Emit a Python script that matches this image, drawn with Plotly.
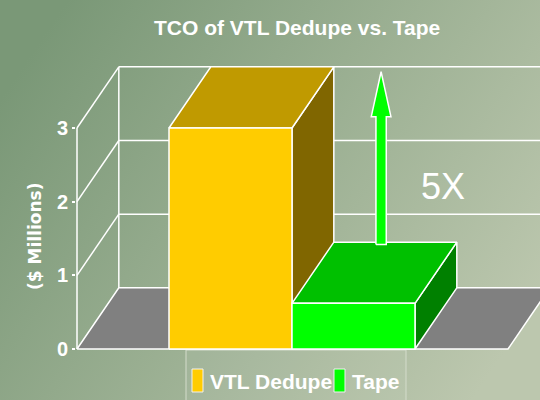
import base64
import plotly.graph_objects as go

# ---------------- data ----------------
CATEGORIES = ["VTL Dedupe", "Tape"]
VALUES = [3.0, 0.62]               # $ millions
FRONT_COLORS = ["#FFCC00", "#00FF00"]
TOP_COLORS = ["#C09A00", "#00C000"]
SIDE_COLORS = ["#806600", "#008000"]
TICK_VALS = [0, 1, 2, 3]
TICK_LABELS = ["0", "1", "2", "3"]
TITLE = "TCO of VTL Dedupe vs. Tape"
Y_TITLE = "($ Millions)"
RATIO_LABEL = "5X"

# ---------------- geometry ----------------
W, H = 540, 400
ML = 76
PX_PER_X, X0_PX = 123.0, 230.5     # category axis scale
PX_PER_Y, Y0_PX = 73.67, 349.0     # value axis scale
BAR_W = 1.0
DX, DY = 0.34, 0.83                # 3-D depth offset (axis units)
X_LEFT, X_RIGHT = -1.248, 2.256    # floor extents (axis units)
X_RANGE = [(ML - X0_PX) / PX_PER_X, (W - X0_PX) / PX_PER_X]
Y_RANGE = [-(H - Y0_PX) / PX_PER_Y, Y0_PX / PX_PER_Y]
YMAX = max(TICK_VALS)

FONT = "Liberation Sans, Arial, sans-serif"
WHITE = "white"
LW = 1.5

fig = go.Figure()


def poly(xs, ys, fill, line=WHITE, width=LW):
    fig.add_trace(go.Scatter(x=xs + [xs[0]], y=ys + [ys[0]], mode="lines",
                             fill="toself", fillcolor=fill,
                             line=dict(color=line, width=width),
                             hoverinfo="skip", showlegend=False))


def seg(xs, ys, color=WHITE, width=LW):
    fig.add_trace(go.Scatter(x=xs, y=ys, mode="lines",
                             line=dict(color=color, width=width),
                             hoverinfo="skip", showlegend=False))


# back wall gridlines and left-wall diagonals
for t in TICK_VALS[1:]:
    seg([X_LEFT + DX, X_RIGHT + DX + 1], [t + DY, t + DY])
    seg([X_LEFT, X_LEFT + DX], [t, t + DY])
seg([X_LEFT + DX, X_LEFT + DX], [DY, YMAX + DY])
seg([X_LEFT, X_LEFT], [0, YMAX])

# floor
poly([X_LEFT, X_RIGHT, X_RIGHT + DX, X_LEFT + DX], [0, 0, DY, DY], "#808080")

# bars
for i, v in enumerate(VALUES):
    x0, x1 = i - BAR_W / 2, i + BAR_W / 2
    poly([x1, x1 + DX, x1 + DX, x1], [0, DY, v + DY, v], SIDE_COLORS[i])
    poly([x0, x1, x1 + DX, x0 + DX], [v, v, v + DY, v + DY], TOP_COLORS[i])
    poly([x0, x1, x1, x0], [0, 0, v, v], FRONT_COLORS[i])

# growth arrow from Tape top to VTL height
ax = 1 + 0.66 * DX
y_base = VALUES[1] + DY * 0.96
y_tip = VALUES[0] + DY * 0.92
sw, hw, hl = 0.042, 0.08, 0.61
poly([ax - sw, ax + sw, ax + sw, ax + hw, ax, ax - hw, ax - sw],
     [y_base, y_base, y_tip - hl, y_tip - hl, y_tip, y_tip - hl, y_tip - hl],
     "#00FF00")

fig.add_annotation(x=1.73, y=2.2, xref="x", yref="y", text=RATIO_LABEL,
                   showarrow=False, xanchor="center", yanchor="middle",
                   font=dict(family=FONT, size=36, color=WHITE))

# ---------------- background ----------------
svg = ("<svg xmlns='http://www.w3.org/2000/svg' width='540' height='400'>"
       "<defs><linearGradient id='g' x1='0' y1='0.25' x2='1' y2='0.75'>"
       "<stop offset='0' stop-color='#7a9877'/>"
       "<stop offset='1' stop-color='#bcc7ae'/>"
       "</linearGradient></defs>"
       "<rect width='540' height='400' fill='url(#g)'/></svg>")
src = "data:image/svg+xml;base64," + base64.b64encode(svg.encode()).decode()
PW = W - ML


def px(p):
    return (p - ML) / PW


def py(p):
    return 1 - p / H


fig.add_layout_image(source=src, xref="paper", yref="paper", x=px(0), y=1,
                     sizex=W / PW, sizey=1, sizing="stretch", layer="below")

# ---------------- title & axis title ----------------
fig.add_annotation(x=px(297), y=py(27), xref="paper", yref="paper", text=TITLE,
                   showarrow=False, xanchor="center", yanchor="middle",
                   font=dict(family=FONT, size=21, color=WHITE, weight="bold"))
fig.add_annotation(x=px(35), y=py(237), xref="paper", yref="paper", text=Y_TITLE,
                   textangle=-90, showarrow=False, xanchor="center", yanchor="middle",
                   font=dict(family="DejaVu Sans, sans-serif", size=17, color=WHITE,
                             weight="bold"))

# ---------------- legend (manual) ----------------
fig.add_shape(type="rect", xref="paper", yref="paper", x0=px(186), x1=px(406),
              y0=py(404), y1=py(350), line=dict(color="#d4dccb", width=1),
              fillcolor="rgba(255,255,255,0.05)", layer="below")
leg_x = [192, 334]
for i, name in enumerate(CATEGORIES):
    fig.add_shape(type="rect", xref="paper", yref="paper", x0=px(leg_x[i]), x1=px(leg_x[i] + 11),
                  y0=py(392), y1=py(369), fillcolor=FRONT_COLORS[i],
                  line=dict(color="#f0f0f0", width=1))
    fig.add_annotation(x=px(leg_x[i] + 16), y=py(381), xref="paper", yref="paper",
                       text=name, showarrow=False, xanchor="left", yanchor="middle",
                       font=dict(family=FONT, size=21, color=WHITE, weight="bold"))

fig.update_layout(
    width=W, height=H, margin=dict(l=ML, r=0, t=0, b=0),
    paper_bgcolor="#8fa88a", plot_bgcolor="rgba(0,0,0,0)",
    showlegend=False,
    xaxis=dict(range=X_RANGE, visible=False, fixedrange=True),
    yaxis=dict(range=Y_RANGE, tickvals=TICK_VALS, ticktext=TICK_LABELS,
               showgrid=False, zeroline=False, showline=False,
               ticks="outside", ticklen=3, tickwidth=1.5, tickcolor=WHITE,
               tickfont=dict(family=FONT, size=20, color=WHITE, weight="bold"),
               fixedrange=True),
)

fig.write_html("out.html", config={"displayModeBar": False},
               post_script="document.body.style.margin='0';document.body.style.overflow='hidden';")
